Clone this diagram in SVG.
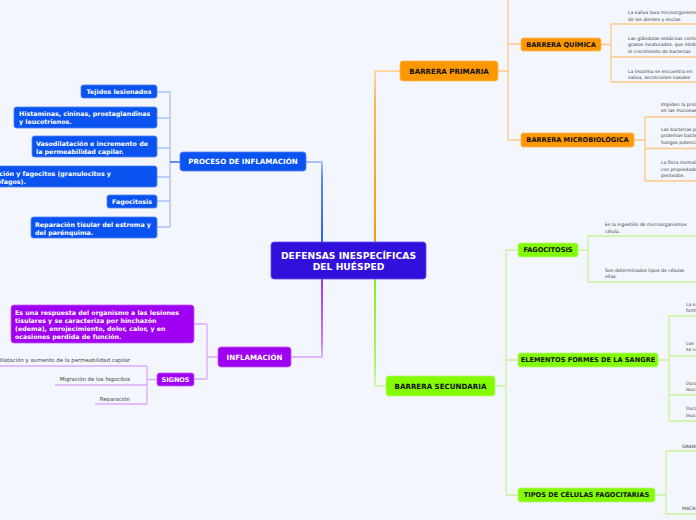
<svg xmlns="http://www.w3.org/2000/svg" width="696" height="520" viewBox="0 0 696 520">
<defs>
<linearGradient id="gBlue" x1="0" y1="1" x2="0" y2="0"><stop offset="0" stop-color="#2a62f2"/><stop offset="0.8" stop-color="#5c8af3"/><stop offset="1" stop-color="#a9c2f7"/></linearGradient>
<linearGradient id="gOrange" x1="0" y1="1" x2="0" y2="0"><stop offset="0" stop-color="#f99a10"/><stop offset="0.8" stop-color="#fbb550"/><stop offset="1" stop-color="#fdd7a4"/></linearGradient>
<linearGradient id="gPurple" x1="0" y1="0" x2="0" y2="1"><stop offset="0" stop-color="#a530f2"/><stop offset="0.8" stop-color="#c57bf5"/><stop offset="1" stop-color="#e0b8f8"/></linearGradient>
<linearGradient id="gGreen" x1="0" y1="0" x2="0" y2="1"><stop offset="0" stop-color="#86f020"/><stop offset="0.8" stop-color="#b2f070"/><stop offset="1" stop-color="#d2f6b0"/></linearGradient>
</defs>
<style>
text{font-family:"DejaVu Sans","Liberation Sans",sans-serif}
.c{fill:none;stroke-linejoin:round}
.main{stroke-width:2}
.sb{stroke:#a9c1f6;stroke-width:1.3}
.so{stroke:#fcc98a;stroke-width:1.3}
.sp{stroke:#dcaaf7;stroke-width:1.3}
.sg{stroke:#c6f39e;stroke-width:1.3}
.nb{fill:#0b53f0;stroke:#4f83f5;stroke-width:0.8}
.no{fill:#fd9800;stroke:#fdb850;stroke-width:0.8}
.ng{fill:#82fb04;stroke:#b5f878;stroke-width:0.8}
.np{fill:#a000f2;stroke:#c35cf6;stroke-width:0.8}
.tw{fill:#ffffff;font-weight:bold}
.tk{fill:#111111;font-weight:bold}
.l1{font-size:7.1px;text-anchor:middle}
.l2{font-size:6.6px;text-anchor:middle}
.lf{font-size:6.3px}
.sm{font-size:4.6px;fill:#3a3a3a}
.sg5{font-size:5.4px;fill:#444444;text-anchor:end}
</style>
<rect x="0" y="0" width="696" height="520" fill="#f3f6fd"/>

<g id="connectors">
<path class="c main" stroke="url(#gBlue)" d="M322,242 V162 H306"/>
<path class="c main" stroke="url(#gOrange)" d="M375,242 V71 H400"/>
<path class="c main" stroke="url(#gPurple)" d="M322,279 V357 H291"/>
<path class="c main" stroke="url(#gGreen)" d="M375,279 V386 H386"/>
<path class="c sb" d="M180,162 H170 M170,92 V227 M157,92 H170 M157,118 H170 M157,148 H170 M157,177 H170 M157,201 H170 M157,227 H170"/>
<path class="c" stroke="#3a6ef2" stroke-width="1.4" d="M180,162 H170"/>
<path class="c sp" d="M218,357 H207 M207,324 V379 M194,324 H207 M194,379 H207"/>
<path class="c sp" d="M157,379.5 H147 M147,366 V404 M-2,366 H147 M55,385 H147 M95,404 H147"/>
<path class="c so" d="M498,71 H508 M508,-5 V140 M508,44 H521 M508,140 H521"/>
<path class="c so" d="M601,44.5 H611 M611,24 V82 M611,24 H700 M611,57 H700 M611,82 H700"/>
<path class="c so" d="M634,140 H645 M645,117 V181 M645,117 H700 M645,148.5 H700 M645,181 H700"/>
<path class="c sg" d="M495,386 H506 M506,250 V495 M506,250 H518 M506,360 H518 M506,495 H518"/>
<path class="c sg" d="M578,250 H588 M588,236 V282 M588,236 H700 M588,282 H700"/>
<path class="c sg" d="M658,360 H669 M669,316 V421 M669,316 H700 M669,356 H700 M669,395 H700 M669,421 H700"/>
<path class="c sg" d="M655,495 H666 M666,451 V514 M666,451 H700 M666,514 H700"/>
</g>

<g id="central">
<rect x="271" y="242" width="155" height="37" rx="3" fill="#3210dc" stroke="#6a50ee" stroke-width="0.8"/>
<text class="tw" x="348.5" y="259.3" font-size="9.2" text-anchor="middle">DEFENSAS INESPECÍFICAS</text>
<text class="tw" x="348.5" y="270" font-size="9.2" text-anchor="middle">DEL HUÉSPED</text>
</g>

<g id="proceso">
<rect class="nb" x="180" y="152" width="126" height="19" rx="3"/>
<text class="tw l1" x="243" y="164.1">PROCESO DE INFLAMACIÓN</text>
</g>
<g id="tejidos">
<rect class="nb" x="81" y="85" width="76" height="13" rx="2.5"/>
<text class="tw lf" x="119" y="94.3" text-anchor="middle">Tejidos lesionados</text>
</g>
<g id="histaminas">
<rect class="nb" x="14" y="107" width="143" height="21" rx="2.5"/>
<text class="tw lf" x="19" y="116">Histaminas, cininas, prostaglandinas</text>
<text class="tw lf" x="19" y="124"> y leucotrienos.</text>
</g>
<g id="vasodilatacion">
<rect class="nb" x="32" y="136" width="125" height="21" rx="2.5"/>
<text class="tw lf" x="36" y="145.5">Vasodilatación e incremento de</text>
<text class="tw lf" x="36" y="153.5">la permeabilidad capilar.</text>
</g>
<g id="migracion">
<rect class="nb" x="-30" y="166" width="187" height="21" rx="2.5"/>
<text class="tw lf" x="-21" y="175.5">Migración y fagocitos (granulocitos y</text>
<text class="tw lf" x="-21" y="183.5">macrófagos).</text>
</g>
<g id="fagocitosis-l">
<rect class="nb" x="107" y="195" width="50" height="13" rx="2.5"/>
<text class="tw lf" x="132" y="203.8" text-anchor="middle">Fagocitosis</text>
</g>
<g id="reparacion">
<rect class="nb" x="31" y="217" width="126" height="21" rx="2.5"/>
<text class="tw lf" x="35" y="226.5">Reparación tisular del estroma y</text>
<text class="tw lf" x="35" y="234.5">del parénquima.</text>
</g>

<g id="inflamacion">
<rect class="np" x="218" y="347" width="73" height="20" rx="3"/>
<text class="tw l1" x="254.5" y="359.6" font-size="7">INFLAMACIÓN</text>
</g>
<g id="definicion">
<rect class="np" x="11" y="305" width="183" height="38" rx="3"/>
<text class="tw lf" x="15" y="314.5">Es una respuesta del organismo a las lesiones</text>
<text class="tw lf" x="15" y="322.5">tisulares y se caracteriza por hinchazón</text>
<text class="tw lf" x="15" y="330.5">(edema), enrojecimiento, dolor, calor, y en</text>
<text class="tw lf" x="15" y="338.5">ocasiones perdida de función.</text>
</g>
<g id="signos">
<rect class="np" x="157" y="373" width="37" height="13" rx="2.5"/>
<text class="tw" x="175.5" y="381.9" font-size="6.5" text-anchor="middle">SIGNOS</text>
</g>
<g id="signos-items">
<text class="sg5" x="130" y="362">Vasodilatación y aumento de la permeabilidad capilar</text>
<text class="sg5" x="130" y="381">Migración de los fagocitos</text>
<text class="sg5" x="130" y="401">Reparación</text>
</g>

<g id="primaria">
<rect class="no" x="400" y="61" width="98" height="20" rx="3"/>
<text class="tk l1" x="449" y="73.6">BARRERA PRIMARIA</text>
</g>
<g id="quimica">
<rect class="no" x="521" y="38" width="80" height="13" rx="2.5"/>
<text class="tk l2" x="561" y="46.9">BARRERA QUÍMICA</text>
</g>
<g id="quimica-items">
<text class="sm" x="628" y="13.8">La saliva lava microorganismos</text>
<text class="sm" x="628" y="20.5">de los dientes y encías.</text>
<text class="sm" x="628" y="39.5">Las glándulas sebáceas contienen</text>
<text class="sm" x="628" y="46">grasos insaturados, que inhiben</text>
<text class="sm" x="628" y="52.5">el crecimiento de bacterias</text>
<text class="sm" x="628" y="72.5">La lisozima se encuentra en</text>
<text class="sm" x="628" y="78.8">saliva, secreciones nasales</text>
</g>
<g id="microbiologica">
<rect class="no" x="521" y="133" width="113" height="14" rx="2.5"/>
<text class="tk l2" x="577.5" y="142.4">BARRERA MICROBIOLÓGICA</text>
</g>
<g id="microbiologica-items">
<text class="sm" x="661" y="105.5">Impiden la proliferación</text>
<text class="sm" x="661" y="112.3">en las mucosas</text>
<text class="sm" x="661" y="130.8">Las bacterias producen</text>
<text class="sm" x="661" y="137.3">proteínas bactericidas</text>
<text class="sm" x="661" y="143.8">hongos potencialmente</text>
<text class="sm" x="661" y="164.3">La flora normal</text>
<text class="sm" x="661" y="170.8">con propiedades</text>
<text class="sm" x="661" y="177.3">peróxidos.</text>
</g>

<g id="secundaria">
<rect class="ng" x="386" y="376" width="109" height="20" rx="3"/>
<text class="tk l1" x="440.5" y="388.6">BARRERA SECUNDARIA</text>
</g>
<g id="fagocitosis">
<rect class="ng" x="518" y="243" width="60" height="14" rx="2.5"/>
<text class="tk l2" x="548" y="252.4">FAGOCITOSIS</text>
</g>
<g id="fagocitosis-items">
<text class="sm" x="605" y="225.5">Es la ingestión de microorganismos</text>
<text class="sm" x="605" y="233">célula.</text>
<text class="sm" x="605" y="272.2">Son determinados tipos de células</text>
<text class="sm" x="605" y="278">ellas.</text>
</g>
<g id="elementos">
<rect class="ng" x="518" y="353" width="140" height="14" rx="2.5"/>
<text class="tk l2" x="588" y="362.4">ELEMENTOS FORMES DE LA SANGRE</text>
</g>
<g id="elementos-items">
<text class="sm" x="686" y="305.5">La sangre</text>
<text class="sm" x="686" y="312.3">formada</text>
<text class="sm" x="686" y="344.5">Los</text>
<text class="sm" x="686" y="351.3">se compone</text>
<text class="sm" x="686" y="384.5">Durante</text>
<text class="sm" x="686" y="390.8">leucocitos</text>
<text class="sm" x="686" y="409.5">Durante</text>
<text class="sm" x="686" y="417.3">leucocitos</text>
</g>
<g id="tipos">
<rect class="ng" x="518" y="488" width="137" height="14" rx="2.5"/>
<text class="tk l2" x="586.5" y="497.4">TIPOS DE CÉLULAS FAGOCITARIAS</text>
</g>
<g id="tipos-items">
<text class="sm" x="682" y="447.5">GRANULOCITOS</text>
<text class="sm" x="682" y="509.5">MACRÓFAGOS</text>
</g>
</svg>
